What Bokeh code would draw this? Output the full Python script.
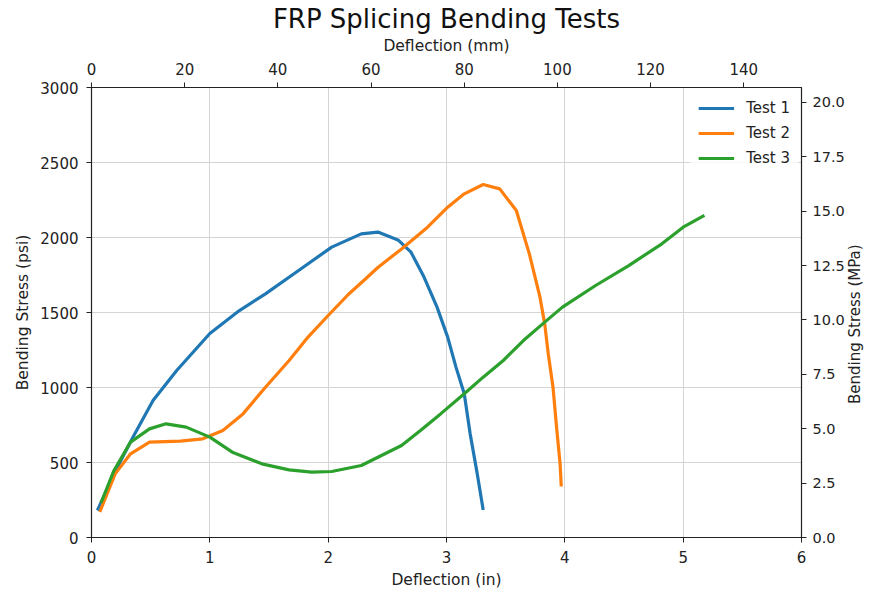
import math
from bokeh.plotting import figure
from bokeh.models import (Range1d, LinearAxis, FixedTicker, PrintfTickFormatter, Legend,
                          LegendItem, Title)
from bokeh.embed import file_html
from bokeh.resources import INLINE

# Data (deflection in inches, bending stress in psi)
test1_x = [0.05, 0.20, 0.35, 0.52, 0.72, 1.00, 1.25, 1.47, 1.75, 2.03, 2.28, 2.42, 2.59, 2.70,
           2.81, 2.92, 3.01, 3.08, 3.15, 3.20, 3.26, 3.31]
test1_y = [180, 440, 669, 913, 1113, 1360, 1513, 1624, 1780, 1936, 2024, 2036, 1984, 1902,
           1736, 1536, 1336, 1136, 958, 691, 424, 184]

test2_x = [0.07, 0.20, 0.33, 0.49, 0.75, 0.94, 1.11, 1.28, 1.47, 1.67, 1.83, 2.00, 2.17, 2.31,
           2.42, 2.62, 2.84, 3.01, 3.15, 3.31, 3.45, 3.59, 3.70, 3.79, 3.83, 3.86, 3.90, 3.93,
           3.96, 3.97]
test2_y = [170, 424, 558, 636, 642, 658, 713, 824, 1002, 1180, 1336, 1480, 1620, 1720,
           1800, 1924, 2069, 2202, 2291, 2353, 2324, 2180, 1891, 1602, 1424, 1224, 1002, 736,
           491, 340]

test3_x = [0.08, 0.19, 0.33, 0.49, 0.63, 0.80, 1.00, 1.19, 1.44, 1.67, 1.86, 2.03, 2.28, 2.45,
           2.62, 2.78, 2.95, 3.15, 3.31, 3.48, 3.65, 3.83, 3.98, 4.26, 4.54, 4.82, 5.00, 5.18]
test3_y = [230, 447, 636, 724, 758, 736, 669, 569, 491, 451, 436, 440, 480, 547,
           613, 713, 824, 958, 1069, 1180, 1313, 1436, 1536, 1680, 1813, 1958, 2069, 2147]

series_names = ["Test 1", "Test 2", "Test 3"]
series_colors = ["#1f77b4", "#ff7f0e", "#2ca02c"]

x_ticks_in = [0, 1, 2, 3, 4, 5, 6]
x_ticks_mm = [0, 20, 40, 60, 80, 100, 120, 140]
y_ticks_psi = [0, 500, 1000, 1500, 2000, 2500, 3000]
y_ticks_mpa = [0, 2.5, 5.0, 7.5, 10.0, 12.5, 15.0, 17.5, 20.0]

X_MAX_IN = 6
Y_MAX_PSI = 3000
MM_PER_IN = 25.4
PSI_PER_MPA = 145.038

FONT = "DejaVu Sans"
RIGHT_LABEL = "Bending Stress (MPa)"

p = figure(width=875, height=592, x_range=Range1d(0, X_MAX_IN), y_range=Range1d(0, Y_MAX_PSI),
           output_backend="svg", toolbar_location=None,
           min_border_left=91, min_border_right=68, min_border_top=87, min_border_bottom=55)

bottom_axis = p.below[0]
left_axis = p.left[0]

p.title.text = "FRP Splicing Bending Tests"
p.title.align = "center"
p.title.text_font = FONT
p.title.text_font_size = "26px"
p.title.text_font_style = "normal"
p.title.text_color = "#111111"
p.title.standoff = 0

p.extra_x_ranges = {"mm": Range1d(0, X_MAX_IN * MM_PER_IN)}
p.extra_y_ranges = {"mpa": Range1d(0, Y_MAX_PSI / PSI_PER_MPA)}

top_axis = LinearAxis(x_range_name="mm", axis_label="Deflection (mm)",
                      ticker=FixedTicker(ticks=x_ticks_mm))
right_axis = LinearAxis(y_range_name="mpa",
                        ticker=FixedTicker(ticks=y_ticks_mpa),
                        formatter=PrintfTickFormatter(format="%.1f"))

bottom_axis.ticker = FixedTicker(ticks=x_ticks_in)
bottom_axis.axis_label = "Deflection (in)"
left_axis.ticker = FixedTicker(ticks=y_ticks_psi)
left_axis.axis_label = "Bending Stress (psi)"

for ax in [bottom_axis, left_axis, top_axis, right_axis]:
    ax.axis_line_color = "#222222"
    ax.axis_line_width = 1.2
    ax.major_tick_line_color = "#222222"
    ax.major_tick_out = 5
    ax.major_tick_in = 0
    ax.minor_tick_out = 0
    ax.minor_tick_in = 0
    ax.major_label_text_font = FONT
    ax.major_label_text_font_size = "15px"
    ax.major_label_text_color = "#222222"
    ax.axis_label_text_font = FONT
    ax.axis_label_text_font_size = "15.5px"
    ax.axis_label_text_font_style = "normal"
    ax.axis_label_text_color = "#222222"
    ax.axis_label_standoff = 5
    ax.major_label_standoff = 8

# tighter right panel so the plot frame keeps close to the reference width
right_axis.major_label_text_font_size = "14.5px"
right_axis.major_label_standoff = 6
right_axis.axis_label_standoff = 7
right_axis.axis_label_text_font_size = "15px"

# right-hand axis title reading bottom-to-top (as in the reference)
try:
    right_axis.axis_label_align = "start"
    right_axis.axis_label_orientation = math.pi / 2
    right_axis.axis_label = "\u00a0" * 28 + RIGHT_LABEL
    use_title = False
except Exception:
    use_title = True

p.add_layout(top_axis, "above")
p.add_layout(right_axis, "right")

if use_title:
    t = Title(text=RIGHT_LABEL, align="center", text_font=FONT, text_font_size="15px",
              text_font_style="normal", text_color="#222222")
    p.add_layout(t, "right")

p.outline_line_color = "#222222"
p.xgrid.grid_line_color = "#d4d4d4"
p.ygrid.grid_line_color = "#d4d4d4"
p.xgrid.grid_line_width = 1
p.ygrid.grid_line_width = 1

renderers = []
for xs, ys, c in zip([test1_x, test2_x, test3_x], [test1_y, test2_y, test3_y], series_colors):
    r = p.line(xs, ys, line_color=c, line_width=3.2)
    renderers.append(r)

legend = Legend(items=[LegendItem(label=n, renderers=[r]) for n, r in zip(series_names, renderers)],
                location="top_right")
legend.border_line_alpha = 0
legend.background_fill_alpha = 0.8
legend.label_text_font = FONT
legend.label_text_font_size = "15px"
legend.label_text_color = "#222222"
legend.glyph_width = 36
legend.glyph_height = 20
legend.label_standoff = 12
legend.spacing = 5
legend.margin = 3
legend.padding = 8
p.add_layout(legend)

open("out.html", "w").write(file_html(p, INLINE))
